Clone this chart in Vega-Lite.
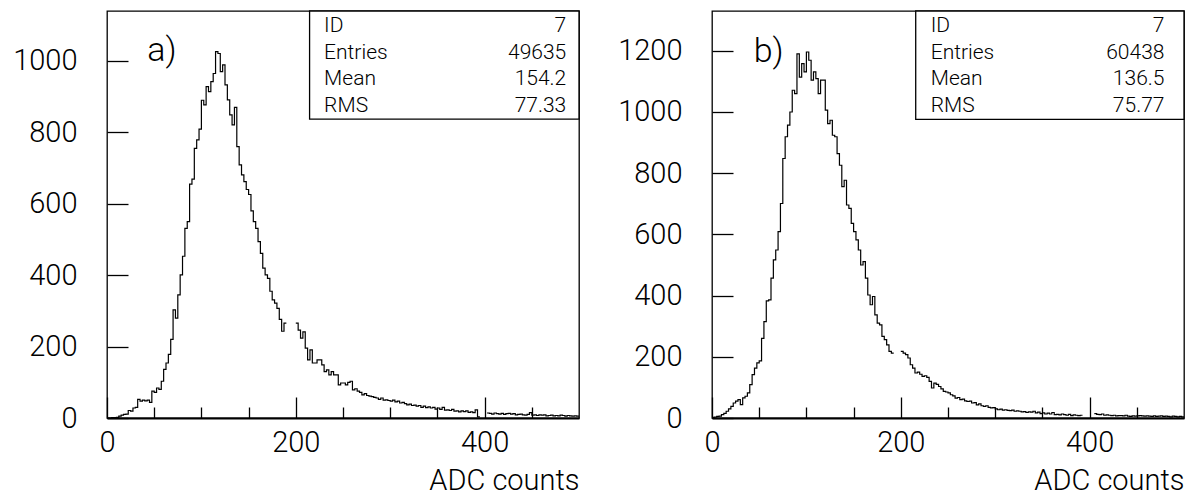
{
  "$schema": "https://vega.github.io/schema/vega-lite/v6.json",
  "padding": {"left": 6, "top": 9, "right": 2, "bottom": 0},
  "background": "white",
  "config": {
    "view": {"stroke": "black", "strokeWidth": 1.3},
    "font": "Roboto",
    "axis": {"grid": false, "labelColor": "black", "titleColor": "black", "tickColor": "black", "domainColor": "black", "labelFont": "Roboto", "titleFont": "Roboto", "labelFontWeight": 300, "titleFontWeight": 300, "labelOverlap": false, "labelFlush": false, "tickWidth": 1.3, "format": "d"}
  },
  "datasets": {
    "ha": [
      {"x":0,"n":0},{"x":2.5,"n":0},{"x":5,"n":1},{"x":7.5,"n":1},{"x":10,"n":2},{"x":12.5,"n":5},{"x":15,"n":8},{"x":17.5,"n":10},{"x":20,"n":11},{"x":22.5,"n":21},
      {"x":25,"n":19},{"x":27.5,"n":28},{"x":30,"n":30},{"x":32.5,"n":52},{"x":35,"n":47},{"x":37.5,"n":50},{"x":40,"n":48},{"x":42.5,"n":50},{"x":45,"n":44},{"x":47.5,"n":75},
      {"x":50,"n":72},{"x":52.5,"n":84},{"x":55,"n":80},{"x":57.5,"n":103},{"x":60,"n":136},{"x":62.5,"n":154},{"x":65,"n":178},{"x":67.5,"n":220},{"x":70,"n":303},{"x":72.5,"n":280},
      {"x":75,"n":345},{"x":77.5,"n":401},{"x":80,"n":453},{"x":82.5,"n":531},{"x":85,"n":550},{"x":87.5,"n":655},{"x":90,"n":669},{"x":92.5,"n":755},{"x":95,"n":779},{"x":97.5,"n":809},
      {"x":100,"n":890},{"x":102.5,"n":877},{"x":105,"n":928},{"x":107.5,"n":914},{"x":110,"n":942},{"x":112.5,"n":965},{"x":115,"n":1026},{"x":117.5,"n":1021},{"x":120,"n":970},{"x":122.5,"n":989},
      {"x":125,"n":933},{"x":127.5,"n":891},{"x":130,"n":849},{"x":132.5,"n":821},{"x":135,"n":870},{"x":137.5,"n":760},{"x":140,"n":709},{"x":142.5,"n":681},{"x":145,"n":662},{"x":147.5,"n":640},
      {"x":150,"n":626},{"x":152.5,"n":580},{"x":155,"n":550},{"x":157.5,"n":531},{"x":160,"n":494},{"x":162.5,"n":461},{"x":165,"n":420},{"x":167.5,"n":401},{"x":170,"n":391},{"x":172.5,"n":355},
      {"x":175,"n":331},{"x":177.5,"n":322},{"x":180,"n":307},{"x":182.5,"n":276},{"x":185,"n":243},{"x":187.5,"n":266},{"x":190,"n":266},{"x":192.5,"n":null},{"x":195,"n":null},{"x":197.5,"n":null},
      {"x":200,"n":266},{"x":202.5,"n":246},{"x":205,"n":224},{"x":207.5,"n":241},{"x":210,"n":196},{"x":212.5,"n":163},{"x":215,"n":191},{"x":217.5,"n":154},{"x":220,"n":154},{"x":222.5,"n":163},
      {"x":225,"n":163},{"x":227.5,"n":149},{"x":230,"n":130},{"x":232.5,"n":135},{"x":235,"n":121},{"x":237.5,"n":130},{"x":240,"n":121},{"x":242.5,"n":121},{"x":245,"n":93},{"x":247.5,"n":98},
      {"x":250,"n":98},{"x":252.5,"n":93},{"x":255,"n":100},{"x":257.5,"n":103},{"x":260,"n":79},{"x":262.5,"n":82},{"x":265,"n":75},{"x":267.5,"n":72},{"x":270,"n":65},{"x":272.5,"n":68},
      {"x":275,"n":63},{"x":277.5,"n":61},{"x":280,"n":60},{"x":282.5,"n":58},{"x":285,"n":56},{"x":287.5,"n":52},{"x":290,"n":56},{"x":292.5,"n":50},{"x":295,"n":51},{"x":297.5,"n":49},
      {"x":300,"n":47},{"x":302.5,"n":50},{"x":305,"n":45},{"x":307.5,"n":47},{"x":310,"n":42},{"x":312.5,"n":44},{"x":315,"n":40},{"x":317.5,"n":37},{"x":320,"n":39},{"x":322.5,"n":35},
      {"x":325,"n":36},{"x":327.5,"n":33},{"x":330,"n":35},{"x":332.5,"n":30},{"x":335,"n":33},{"x":337.5,"n":29},{"x":340,"n":31},{"x":342.5,"n":28},{"x":345,"n":30},{"x":347.5,"n":25},
      {"x":350,"n":28},{"x":352.5,"n":24},{"x":355,"n":30},{"x":357.5,"n":22},{"x":360,"n":23},{"x":362.5,"n":21},{"x":365,"n":24},{"x":367.5,"n":19},{"x":370,"n":20},{"x":372.5,"n":17},
      {"x":375,"n":20},{"x":377.5,"n":18},{"x":380,"n":20},{"x":382.5,"n":16},{"x":385,"n":17},{"x":387.5,"n":15},{"x":390,"n":23},{"x":392.5,"n":3},{"x":395,"n":3},{"x":397.5,"n":null},
      {"x":400,"n":null},{"x":402.5,"n":14},{"x":405,"n":13},{"x":407.5,"n":11},{"x":410,"n":14},{"x":412.5,"n":12},{"x":415,"n":11},{"x":417.5,"n":13},{"x":420,"n":10},{"x":422.5,"n":12},
      {"x":425,"n":13},{"x":427.5,"n":11},{"x":430,"n":12},{"x":432.5,"n":9},{"x":435,"n":10},{"x":437.5,"n":11},{"x":440,"n":9},{"x":442.5,"n":8},{"x":445,"n":10},{"x":447.5,"n":15},
      {"x":450,"n":8},{"x":452.5,"n":9},{"x":455,"n":7},{"x":457.5,"n":9},{"x":460,"n":8},{"x":462.5,"n":9},{"x":465,"n":6},{"x":467.5,"n":7},{"x":470,"n":8},{"x":472.5,"n":6},
      {"x":475,"n":7},{"x":477.5,"n":6},{"x":480,"n":8},{"x":482.5,"n":7},{"x":485,"n":5},{"x":487.5,"n":7},{"x":490,"n":6},{"x":492.5,"n":5},{"x":495,"n":6},{"x":497.5,"n":5},{"x":500,"n":5}
    ],
    "hb": [
      {"x":0,"n":2},{"x":2.5,"n":3},{"x":5,"n":5},{"x":7.5,"n":6},{"x":10,"n":11},{"x":12.5,"n":15},{"x":15,"n":22},{"x":17.5,"n":30},{"x":20,"n":38},{"x":22.5,"n":49},
      {"x":25,"n":55},{"x":27.5,"n":60},{"x":30,"n":44},{"x":32.5,"n":66},{"x":35,"n":71},{"x":37.5,"n":82},{"x":40,"n":109},{"x":42.5,"n":142},{"x":45,"n":163},{"x":47.5,"n":180},
      {"x":50,"n":187},{"x":52.5,"n":260},{"x":55,"n":315},{"x":57.5,"n":383},{"x":60,"n":386},{"x":62.5,"n":457},{"x":65,"n":517},{"x":67.5,"n":549},{"x":70,"n":609},{"x":72.5,"n":701},
      {"x":75,"n":848},{"x":77.5,"n":919},{"x":80,"n":957},{"x":82.5,"n":1000},{"x":85,"n":1071},{"x":87.5,"n":1060},{"x":90,"n":1190},{"x":92.5,"n":1114},{"x":95,"n":1158},{"x":97.5,"n":1131},
      {"x":100,"n":1196},{"x":102.5,"n":1169},{"x":105,"n":1104},{"x":107.5,"n":1131},{"x":110,"n":1109},{"x":112.5,"n":1060},{"x":115,"n":1104},{"x":117.5,"n":1104},{"x":120,"n":1006},{"x":122.5,"n":962},
      {"x":125,"n":973},{"x":127.5,"n":924},{"x":130,"n":919},{"x":132.5,"n":864},{"x":135,"n":826},{"x":137.5,"n":756},{"x":140,"n":777},{"x":142.5,"n":696},{"x":145,"n":685},{"x":147.5,"n":636},
      {"x":150,"n":609},{"x":152.5,"n":582},{"x":155,"n":549},{"x":157.5,"n":500},{"x":160,"n":511},{"x":162.5,"n":457},{"x":165,"n":402},{"x":167.5,"n":370},{"x":170,"n":397},{"x":172.5,"n":337},
      {"x":175,"n":310},{"x":177.5,"n":304},{"x":180,"n":267},{"x":182.5,"n":256},{"x":185,"n":239},{"x":187.5,"n":218},{"x":190,"n":212},{"x":192.5,"n":212},{"x":195,"n":null},{"x":197.5,"n":null},
      {"x":200,"n":218},{"x":202.5,"n":212},{"x":205,"n":207},{"x":207.5,"n":196},{"x":210,"n":174},{"x":212.5,"n":163},{"x":215,"n":147},{"x":217.5,"n":150},{"x":220,"n":143},{"x":222.5,"n":136},
      {"x":225,"n":138},{"x":227.5,"n":133},{"x":230,"n":120},{"x":232.5,"n":98},{"x":235,"n":114},{"x":237.5,"n":110},{"x":240,"n":103},{"x":242.5,"n":95},{"x":245,"n":87},{"x":247.5,"n":85},
      {"x":250,"n":82},{"x":252.5,"n":76},{"x":255,"n":72},{"x":257.5,"n":65},{"x":260,"n":67},{"x":262.5,"n":60},{"x":265,"n":62},{"x":267.5,"n":56},{"x":270,"n":54},{"x":272.5,"n":55},
      {"x":275,"n":49},{"x":277.5,"n":50},{"x":280,"n":43},{"x":282.5,"n":46},{"x":285,"n":40},{"x":287.5,"n":38},{"x":290,"n":40},{"x":292.5,"n":35},{"x":295,"n":33},{"x":297.5,"n":34},
      {"x":300,"n":30},{"x":302.5,"n":27},{"x":305,"n":29},{"x":307.5,"n":26},{"x":310,"n":27},{"x":312.5,"n":25},{"x":315,"n":24},{"x":317.5,"n":26},{"x":320,"n":22},{"x":322.5,"n":23},
      {"x":325,"n":22},{"x":327.5,"n":20},{"x":330,"n":21},{"x":332.5,"n":18},{"x":335,"n":20},{"x":337.5,"n":19},{"x":340,"n":22},{"x":342.5,"n":17},{"x":345,"n":19},{"x":347.5,"n":14},
      {"x":350,"n":17},{"x":352.5,"n":13},{"x":355,"n":16},{"x":357.5,"n":13},{"x":360,"n":18},{"x":362.5,"n":11},{"x":365,"n":12},{"x":367.5,"n":10},{"x":370,"n":13},{"x":372.5,"n":11},
      {"x":375,"n":9},{"x":377.5,"n":12},{"x":380,"n":8},{"x":382.5,"n":10},{"x":385,"n":9},{"x":387.5,"n":8},{"x":390,"n":9},{"x":392.5,"n":9},{"x":395,"n":null},{"x":397.5,"n":null},
      {"x":400,"n":null},{"x":402.5,"n":null},{"x":405,"n":14},{"x":407.5,"n":12},{"x":410,"n":11},{"x":412.5,"n":13},{"x":415,"n":9},{"x":417.5,"n":10},{"x":420,"n":9},{"x":422.5,"n":8},
      {"x":425,"n":9},{"x":427.5,"n":7},{"x":430,"n":8},{"x":432.5,"n":8},{"x":435,"n":7},{"x":437.5,"n":9},{"x":440,"n":6},{"x":442.5,"n":5},{"x":445,"n":7},{"x":447.5,"n":6},
      {"x":450,"n":7},{"x":452.5,"n":8},{"x":455,"n":7},{"x":457.5,"n":6},{"x":460,"n":7},{"x":462.5,"n":6},{"x":465,"n":5},{"x":467.5,"n":7},{"x":470,"n":5},{"x":472.5,"n":6},
      {"x":475,"n":7},{"x":477.5,"n":5},{"x":480,"n":6},{"x":482.5,"n":5},{"x":485,"n":4},{"x":487.5,"n":6},{"x":490,"n":5},{"x":492.5,"n":4},{"x":495,"n":5},{"x":497.5,"n":4},{"x":500,"n":4}
    ]
  },
  "spacing": 28,
  "hconcat": [
    {
      "width": 472,
      "height": 407,
      "layer": [
        {
          "data": {"name": "ha"},
          "mark": {"type": "line", "interpolate": "step-after", "color": "black", "strokeWidth": 1.2, "invalid": "break-paths-show-domains"},
          "encoding": {
            "x": {"field": "x", "type": "quantitative", "scale": {"domain": [0, 500], "nice": false, "zero": false},
              "axis": {"values": [0,50,100,150,200,250,300,350,400,450], "labelExpr": "datum.value % 200 === 0 ? datum.label : ''",
                "tickSize": {"condition": {"test": "datum.value % 200 === 0", "value": -21}, "value": -11},
                "labelPadding": 31, "labelFontSize": 29, "domainWidth": 2, "title": "ADC counts", "titleAnchor": "end", "titleBaseline": "alphabetic", "titleY": 71, "titleFontSize": 29}},
            "y": {"field": "n", "type": "quantitative", "scale": {"domain": [0, 1140], "nice": false},
              "axis": {"values": [0,50,100,150,200,250,300,350,400,450,500,550,600,650,700,750,800,850,900,950,1000,1050,1100], "labelExpr": "datum.value % 200 === 0 ? datum.label : ''",
                "tickSize": {"condition": {"test": "datum.value % 200 === 0", "value": -21}, "value": -11},
                "labelPadding": 51, "labelFontSize": 29, "domain": false, "title": null, "minExtent": 100, "maxExtent": 100}}
          }
        },
        {
          "data": {"values": [{}]},
          "mark": {"type": "rect", "fill": "white", "stroke": "black", "strokeWidth": 1.3},
          "encoding": {"x": {"datum": 214.6}, "x2": {"datum": 500}, "y": {"datum": 837}, "y2": {"datum": 1140}}
        },
        {
          "data": {"values": [{}]},
          "mark": {"type": "text", "text": ["ID", "Entries", "Mean", "RMS"], "align": "left", "baseline": "middle", "lineHeight": 26.6, "fontSize": 21, "font": "Roboto", "fontWeight": 300, "color": "black"},
          "encoding": {"x": {"datum": 230}, "y": {"datum": 1098}}
        },
        {
          "data": {"values": [{}]},
          "mark": {"type": "text", "text": ["7", "49635", "154.2", "77.33"], "align": "right", "baseline": "middle", "lineHeight": 26.6, "fontSize": 21, "font": "Roboto", "fontWeight": 300, "color": "black"},
          "encoding": {"x": {"datum": 486.5}, "y": {"datum": 1098}}
        },
        {
          "data": {"values": [{}]},
          "mark": {"type": "text", "text": "a)", "align": "left", "baseline": "middle", "fontSize": 34, "font": "Roboto", "fontWeight": 300, "color": "black"},
          "encoding": {"x": {"datum": 42.7}, "y": {"datum": 1027}}
        }
      ]
    },
    {
      "width": 472,
      "height": 407,
      "layer": [
        {
          "data": {"name": "hb"},
          "mark": {"type": "line", "interpolate": "step-after", "color": "black", "strokeWidth": 1.2, "invalid": "break-paths-show-domains"},
          "encoding": {
            "x": {"field": "x", "type": "quantitative", "scale": {"domain": [0, 500], "nice": false, "zero": false},
              "axis": {"values": [0,50,100,150,200,250,300,350,400,450], "labelExpr": "datum.value % 200 === 0 ? datum.label : ''",
                "tickSize": {"condition": {"test": "datum.value % 200 === 0", "value": -21}, "value": -11},
                "labelPadding": 31, "labelFontSize": 29, "domainWidth": 2, "title": "ADC counts", "titleAnchor": "end", "titleBaseline": "alphabetic", "titleY": 71, "titleFontSize": 29}},
            "y": {"field": "n", "type": "quantitative", "scale": {"domain": [0, 1330], "nice": false},
              "axis": {"values": [0,50,100,150,200,250,300,350,400,450,500,550,600,650,700,750,800,850,900,950,1000,1050,1100,1150,1200,1250,1300], "labelExpr": "datum.value % 200 === 0 ? datum.label : ''",
                "tickSize": {"condition": {"test": "datum.value % 200 === 0", "value": -21}, "value": -11},
                "labelPadding": 51, "labelFontSize": 29, "domain": false, "title": null, "minExtent": 100, "maxExtent": 100}}
          }
        },
        {
          "data": {"values": [{}]},
          "mark": {"type": "rect", "fill": "white", "stroke": "black", "strokeWidth": 1.3},
          "encoding": {"x": {"datum": 215.8}, "x2": {"datum": 500}, "y": {"datum": 976}, "y2": {"datum": 1330}}
        },
        {
          "data": {"values": [{}]},
          "mark": {"type": "text", "text": ["ID", "Entries", "Mean", "RMS"], "align": "left", "baseline": "middle", "lineHeight": 26.6, "fontSize": 21, "font": "Roboto", "fontWeight": 300, "color": "black"},
          "encoding": {"x": {"datum": 231.7}, "y": {"datum": 1281}}
        },
        {
          "data": {"values": [{}]},
          "mark": {"type": "text", "text": ["7", "60438", "136.5", "75.77"], "align": "right", "baseline": "middle", "lineHeight": 26.6, "fontSize": 21, "font": "Roboto", "fontWeight": 300, "color": "black"},
          "encoding": {"x": {"datum": 479.3}, "y": {"datum": 1281}}
        },
        {
          "data": {"values": [{}]},
          "mark": {"type": "text", "text": "b)", "align": "left", "baseline": "middle", "fontSize": 34, "font": "Roboto", "fontWeight": 300, "color": "black"},
          "encoding": {"x": {"datum": 44.2}, "y": {"datum": 1196}}
        }
      ]
    }
  ]
}
